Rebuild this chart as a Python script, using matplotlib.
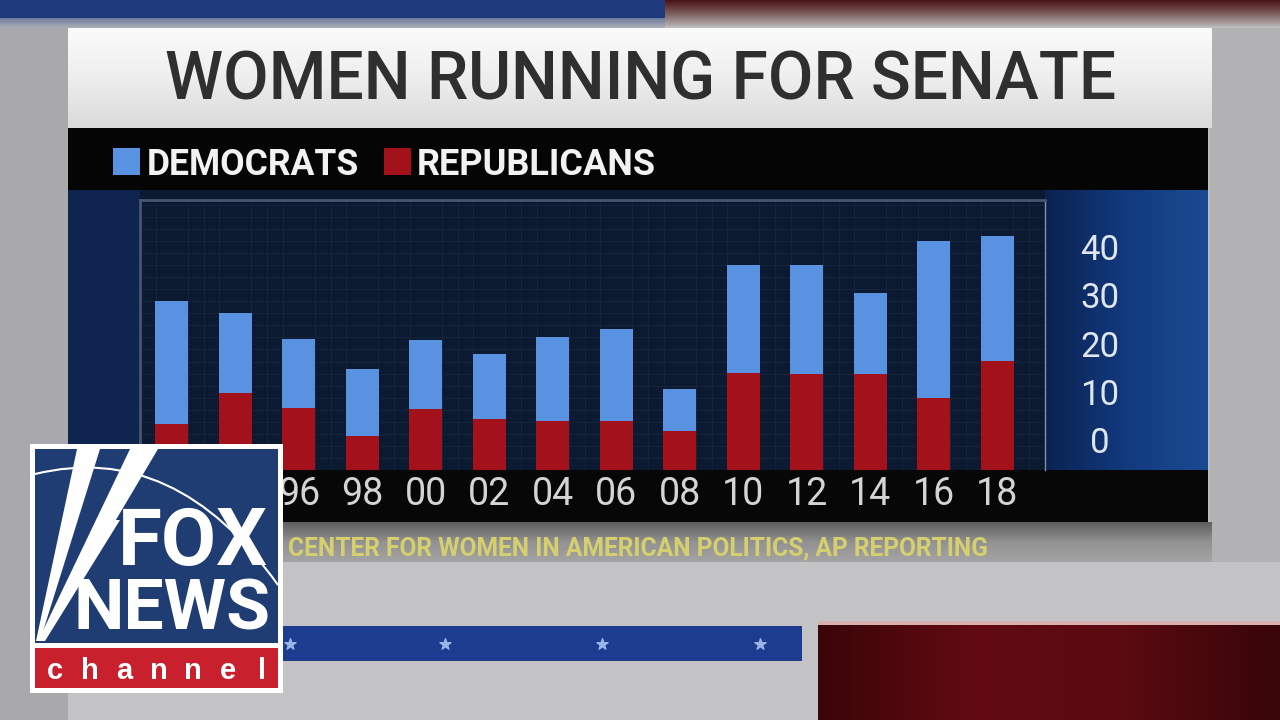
import numpy as np
import matplotlib
matplotlib.use("Agg")
import matplotlib.pyplot as plt
from matplotlib.patches import Rectangle, Polygon, PathPatch
from matplotlib.path import Path
from matplotlib.colors import LinearSegmentedColormap

# ---------------- data ----------------
years = ["92", "94", "96", "98", "00", "02", "04", "06", "08", "10", "12", "14", "16", "18"]
democrats = [25.5, 16.5, 14.4, 13.9, 14.3, 13.4, 17.4, 19.0, 8.7, 22.4, 22.6, 16.8, 32.6, 25.9]
republicans = [9.5, 16.0, 12.8, 7.0, 12.6, 10.6, 10.2, 10.2, 8.1, 20.1, 19.9, 19.9, 14.9, 22.6]
y_tick_labels = ["0", "10", "20", "30", "40"]
y_tick_values = [0, 10, 20, 30, 40]
series_names = ["DEMOCRATS", "REPUBLICANS"]
title_text = "WOMEN RUNNING FOR SENATE"
source_text = "CENTER FOR WOMEN IN AMERICAN POLITICS, AP REPORTING"

# ---------------- styles ----------------
DEM_COLOR = "#5a92e2"
REP_COLOR = "#a3121b"
NARROW = ["Liberation Sans Narrow", "Roboto", "DejaVu Sans"]
LABEL_SHIFT = 6.2   # the broadcast graphic's value column sits above the bar baseline
LOGO_BOX = (30, 444, 283, 693)  # x0, y0, x1, y1 in picture pixels

fig = plt.figure(figsize=(12.8, 7.2), dpi=100)
fig.patch.set_facecolor("#bcbcbf")


def setup(a):
    a.set_xlim(0, 1280)
    a.set_ylim(720, 0)
    a.axis("off")
    a.set_autoscale_on(False)


def rect(a, x0, y0, x1, y1, color, z=1):
    a.add_patch(Rectangle((x0, y0), x1 - x0, y1 - y0, facecolor=color,
                          edgecolor="none", zorder=z))


def grad(a, x0, y0, x1, y1, colors, horizontal=False, z=1):
    cmap = LinearSegmentedColormap.from_list("g", colors)
    arr = np.linspace(0, 1, 256)
    arr = arr[None, :] if horizontal else arr[:, None]
    a.imshow(arr, cmap=cmap, extent=(x0, x1, y1, y0), aspect="auto",
             interpolation="bilinear", zorder=z)


renderer = fig.canvas.get_renderer()


def fit_text(a, x0, x1, baseline, s, color, family, weight="normal", size=20, z=5):
    t = a.text(x0, baseline, s, ha="left", va="baseline", color=color,
               family=family, weight=weight, fontsize=size, zorder=z)
    w = t.get_window_extent(renderer).width
    t.set_fontsize(size * (x1 - x0) / w)
    return t


# ---------------- background frame ----------------
bg = fig.add_axes([0, 0, 1, 1], zorder=0)
setup(bg)
rect(bg, 0, 0, 1280, 720, "#bcbcbf", z=0)
rect(bg, 0, 0, 665, 18, "#1e3a7c")
grad(bg, 665, 0, 1280, 26, ["#4a1212", "#7a5a5a", "#b4b0b0"])
grad(bg, 0, 18, 665, 28, ["#6a7aa0", "#b0b0b4"])
rect(bg, 0, 28, 68, 720, "#a9a9ad")
rect(bg, 1210, 28, 1280, 625, "#b2b2b4")
grad(bg, 68, 28, 1212, 128, ["#fbfbfb", "#eeeeee", "#dadada"], z=2)
rect(bg, 68, 128, 1208, 190, "#050505", z=2)
rect(bg, 68, 190, 140, 470, "#0f2550", z=2)
rect(bg, 140, 190, 1046, 201, "#0c1a31", z=2)
grad(bg, 1045, 190, 1208, 470, ["#0a2250", "#123a7e", "#1a4a92"], horizontal=True, z=2)
rect(bg, 68, 470, 1208, 522, "#070707", z=2)
grad(bg, 68, 522, 1212, 562, ["#5e5e5e", "#929292", "#a4a4a4"], z=2)
rect(bg, 68, 562, 1280, 720, "#c3c3c5", z=1)
rect(bg, 283, 626, 802, 661, "#1c3d8f", z=2)
bg.scatter([290, 445, 602, 760], [644, 644, 644, 644], marker="*", s=70,
           color="#9ab4e8", zorder=3)
grad(bg, 818, 624, 1280, 720, ["#3a0508", "#620a12", "#5a0a10", "#380508"],
     horizontal=True, z=2)
rect(bg, 818, 621, 1280, 625, "#d9b0b0", z=2)

# title
fit_text(bg, 165, 1117, 100, title_text, "#2f2f2f", NARROW, "medium", 50)

# legend
rect(bg, 113, 148, 140, 175, DEM_COLOR, z=3)
rect(bg, 384, 148, 411, 175, REP_COLOR, z=3)
fit_text(bg, 147, 359, 175, series_names[0], "#f2f2f2", NARROW, "bold", 26)
fit_text(bg, 417, 656, 175, series_names[1], "#f2f2f2", NARROW, "bold", 26)

# source line
fit_text(bg, 288, 992, 555, source_text, "#d6cf6e", NARROW, "bold", 14)

# ---------------- the chart ----------------
ax = fig.add_axes([140 / 1280, (720 - 470) / 720, (1045 - 140) / 1280, (470 - 200) / 720],
                  zorder=2)
ax.set_facecolor("#0c1a31")
x = np.arange(len(years))
ax.bar(x, republicans, width=0.52, color=REP_COLOR, zorder=3)
ax.bar(x, democrats, width=0.52, bottom=republicans, color=DEM_COLOR, zorder=3)
ax.set_xlim(-0.43, len(years) - 0.47)
ax.set_ylim(0, 56)

ax.set_xticks(x)
ax.set_xticklabels(years, family=NARROW, fontsize=27, color="#d4d4d4")
ax.tick_params(axis="x", which="major", length=0, pad=4)

ax.yaxis.tick_right()
ax.set_yticks([v + LABEL_SHIFT for v in y_tick_values])
ax.set_yticklabels(y_tick_labels, family=NARROW, fontsize=25, color="#dfe4ee")
for lbl in ax.get_yticklabels():
    lbl.set_horizontalalignment("center")
ax.tick_params(axis="y", which="major", length=0, pad=39.6)

ax.set_xticks(np.arange(-0.5, len(years), 0.25), minor=True)
ax.set_yticks(np.arange(0, 56, 2.5), minor=True)
ax.tick_params(which="minor", length=0)
ax.grid(which="minor", color="#15233b", lw=0.8)
ax.set_axisbelow(True)
for side in ["top", "left"]:
    ax.spines[side].set_color("#46566f")
    ax.spines[side].set_linewidth(2)
ax.spines["right"].set_color("#8090aa")
ax.spines["right"].set_linewidth(1)
ax.spines["bottom"].set_visible(False)

# year labels that sit fully behind the channel logo are not visible in the broadcast
fig.canvas.draw()
for lbl in ax.get_xticklabels():
    bb = lbl.get_window_extent(renderer)
    if bb.x1 <= LOGO_BOX[2]:
        lbl.set_visible(False)

# ---------------- channel logo (overlay) ----------------
ov = fig.add_axes([0, 0, 1, 1], zorder=10)
setup(ov)
ov.patch.set_alpha(0)
rect(ov, LOGO_BOX[0], LOGO_BOX[1], LOGO_BOX[2], LOGO_BOX[3], "white", z=1)
rect(ov, 35, 449, 278, 643, "#1f3c73", z=2)
rect(ov, 35, 648, 278, 688, "#c8202c", z=2)
for poly in ([(36, 641), (77, 449), (100, 449), (40, 641)],
             [(38, 641), (130, 449), (158, 449), (44, 641)],
             [(40, 641), (112, 520), (120, 520), (45, 641)]):
    ov.add_patch(Polygon(poly, closed=True, facecolor="white", edgecolor="none", zorder=3))
arc = Path([(35, 474), (175, 440), (278, 585)], [Path.MOVETO, Path.CURVE3, Path.CURVE3])
ov.add_patch(PathPatch(arc, facecolor="none", edgecolor="white", lw=1.5, zorder=3))
fit_text(ov, 118, 268, 565, "FOX", "white", NARROW, "bold", 60, z=4)
fit_text(ov, 73, 270, 630, "NEWS", "white", NARROW, "bold", 60, z=4)
for cx, ch in zip(np.linspace(55, 262, 7), "channel"):
    ov.text(cx, 679, ch, ha="center", va="baseline", color="white",
            family=["Liberation Sans", "DejaVu Sans"], weight="bold", fontsize=21, zorder=4)

fig.savefig("out.png", dpi=100, facecolor=fig.get_facecolor())
